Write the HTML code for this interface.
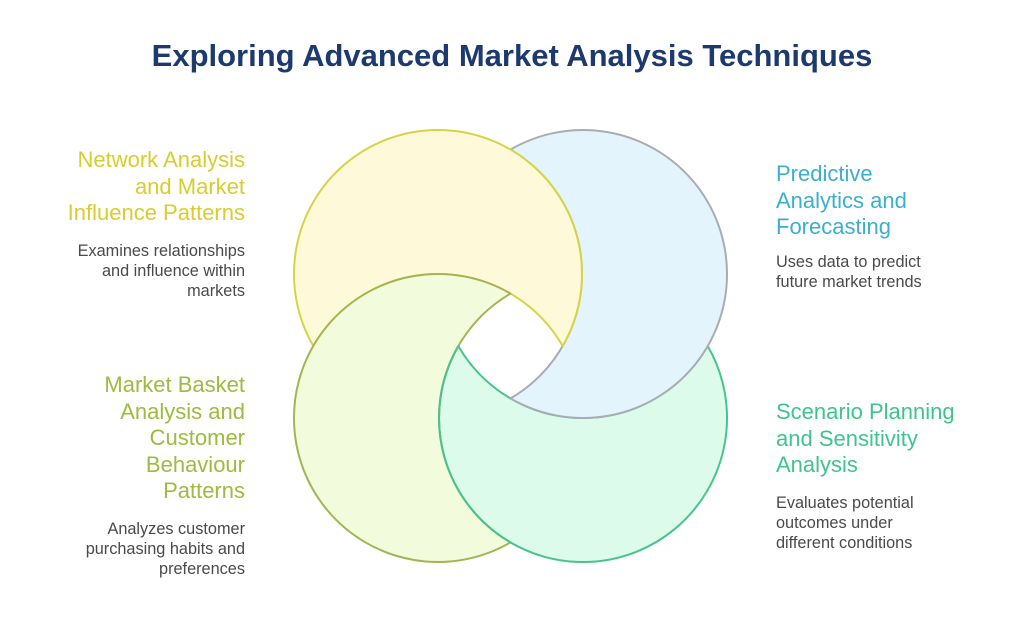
<!DOCTYPE html>
<html><head><meta charset="utf-8"><style>
html,body{margin:0;padding:0;background:#fff;}
body{width:1024px;height:622px;overflow:hidden;position:relative;font-family:"Liberation Sans",sans-serif;}
.t{position:absolute;white-space:nowrap;}
.h{font-size:22px;line-height:26.5px;}
.d{font-size:16.3px;line-height:20px;color:#4a4a4a;}
.r{text-align:right;right:779px;}
.l{left:776px;text-align:left;}
</style></head><body>
<div class="t" style="left:0;width:1024px;top:38px;text-align:center;font-size:31px;font-weight:bold;color:#1d3a6e;">Exploring Advanced Market Analysis Techniques</div>
<svg width="1024" height="622" style="position:absolute;left:0;top:0">
<g stroke-width="2" stroke-linejoin="round" stroke-linecap="round">
<path d="M707.7,346 A144,144 0 1 1 458.3,346 A144,144 0 0 0 707.7,346 Z" fill="#ddfbeb" stroke="#48c38e"/>
<path d="M510.5,149.6 A144,144 0 1 1 510.5,398.4 A144,144 0 0 0 510.5,149.6 Z" fill="#e3f4fc" stroke="#a9adb1"/>
<path d="M313.3,346 A144,144 0 1 1 562.7,346 A144,144 0 0 0 313.3,346 Z" fill="#fef9d9" stroke="#d8d346"/>
<path d="M510.5,542.4 A144,144 0 1 1 510.5,293.6 A144,144 0 0 0 510.5,542.4 Z" fill="#f2fbdb" stroke="#a3b552"/>
<path d="M458.3,346 A144,144 0 0 0 510.5,542.4" fill="none" stroke="#48c38e"/>
</g>
</svg>
<div class="t h r" style="top:147px;color:#d8cd2c;">Network Analysis<br>and Market<br>Influence Patterns</div>
<div class="t d r" style="top:241px;">Examines relationships<br>and influence within<br>markets</div>
<div class="t h r" style="top:372px;color:#9dbb3e;">Market Basket<br>Analysis and<br>Customer<br>Behaviour<br>Patterns</div>
<div class="t d r" style="top:519px;">Analyzes customer<br>purchasing habits and<br>preferences</div>
<div class="t h l" style="top:161px;color:#3aafcf;">Predictive<br>Analytics and<br>Forecasting</div>
<div class="t d l" style="top:252px;">Uses data to predict<br>future market trends</div>
<div class="t h l" style="top:399px;color:#3ec48e;">Scenario Planning<br>and Sensitivity<br>Analysis</div>
<div class="t d l" style="top:493px;">Evaluates potential<br>outcomes under<br>different conditions</div>
</body></html>
